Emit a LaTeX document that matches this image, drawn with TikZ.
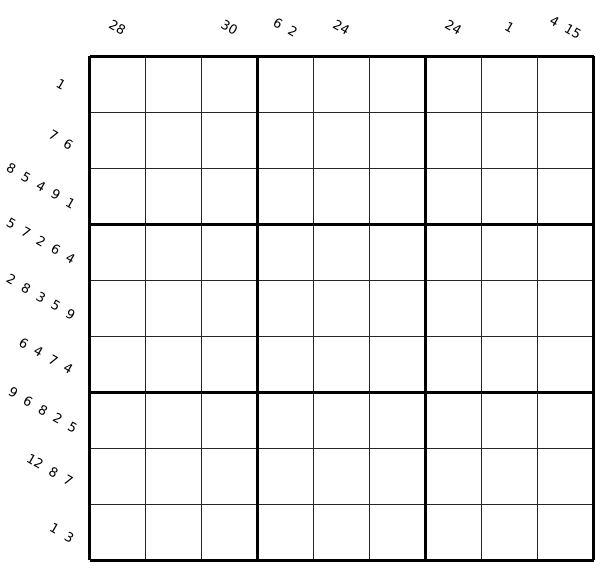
\documentclass[tikz,border=0pt]{standalone}
\usepackage{fontspec}
\setmainfont{DejaVu Sans}
\newcommand{\cgap}{\hspace{0.68em}}

\begin{document}
\begin{tikzpicture}[x=1pt,y=-1pt,
    clue/.style={rotate=-30,inner sep=0pt,font=\fontsize{13}{15}\selectfont}]
    \useasboundingbox (0,0) rectangle (601,573);
    % thin cell lines
    \foreach \i in {1,...,8} {
        \draw[line width=0.8pt,black!85] (89.5+56*\i,56.3) -- (89.5+56*\i,560.3);
        \draw[line width=0.8pt,black!85] (89.5,56.3+56*\i) -- (593.5,56.3+56*\i);
    }
    % box lines
    \foreach \i in {0,3,6,9} {
        \draw[line width=2.5pt] (89.5+56*\i,56.3) -- (89.5+56*\i,560.3);
        \draw[line width=2.5pt] (89.5,56.3+56*\i) -- (593.5,56.3+56*\i);
    }
    % column clues
    \foreach \c/\t in {1/28, 3/30, 4/6\cgap 2, 5/24, 7/24, 8/1, 9/4\cgap 15}
        \node[clue] (col\c) at (61.5+56*\c,27.5) {\t};
    % row clues
    \foreach \r/\x/\y/\t in {1/61/84/1, 2/61/140/7\cgap 6,
        3/41/186/8\cgap 5\cgap 4\cgap 9\cgap 1,
        4/41/241/5\cgap 7\cgap 2\cgap 6\cgap 4,
        5/41/297/2\cgap 8\cgap 3\cgap 5\cgap 9,
        6/46/356/6\cgap 4\cgap 7\cgap 4,
        7/43/410/9\cgap 6\cgap 8\cgap 2\cgap 5,
        8/50/470/12\cgap 8\cgap 7, 9/62/533/1\cgap 3}
        \node[clue] (row\r) at (\x,\y) {\t};
\end{tikzpicture}
\end{document}
